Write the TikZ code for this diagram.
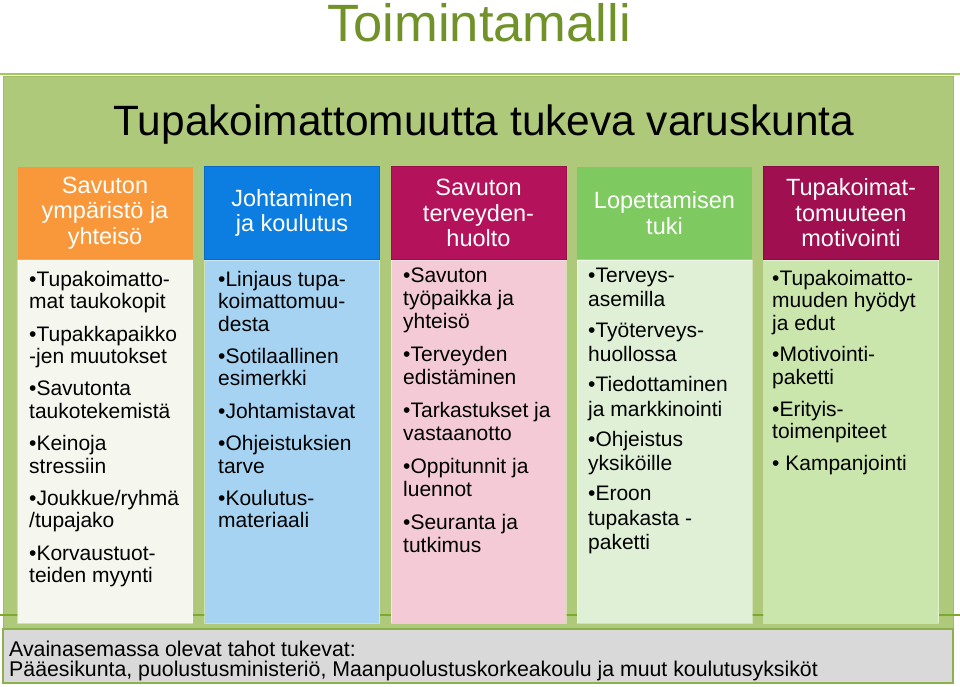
\documentclass[tikz,border=0pt]{standalone}
\usepackage{fontspec}
\setmainfont{Liberation Sans}
\definecolor{titlegreen}{RGB}{112,146,40}
\definecolor{bggreen}{RGB}{174,201,122}
\definecolor{bgedge}{RGB}{160,188,100}
\definecolor{toplinec}{RGB}{160,200,90}
\definecolor{midlinec}{RGB}{125,170,46}
\definecolor{hOrange}{RGB}{248,152,58}
\definecolor{bOrange}{RGB}{245,247,238}
\definecolor{hBlue}{RGB}{12,126,226}
\definecolor{bBlue}{RGB}{166,211,242}
\definecolor{hMag}{RGB}{180,18,90}
\definecolor{bMag}{RGB}{243,202,214}
\definecolor{hGreen}{RGB}{126,201,96}
\definecolor{bGreen}{RGB}{224,240,214}
\definecolor{hPlum}{RGB}{160,15,80}
\definecolor{bPlum}{RGB}{202,230,172}
\definecolor{grayfill}{RGB}{217,217,217}
\definecolor{grayedge}{RGB}{141,176,79}
\begin{document}
\begin{tikzpicture}[x=1pt,y=-1pt,
  headbox/.style={rectangle, inner sep=0, minimum width=175, minimum height=92.5, line width=1},
  bodybox/.style={rectangle, inner sep=0, minimum width=175, minimum height=363, draw=white, draw opacity=0.45, line width=1},
  headtext/.style={inner sep=0, align=center, text=white, font=\fontsize{23.5}{25.5}\selectfont},
  bodytext/.style={inner sep=0, align=left, anchor=north west, text=black, font=\fontsize{21}{22.4}\selectfont},
  bodytextwide/.style={bodytext, font=\fontsize{21}{24.3}\selectfont}
]
\useasboundingbox (0,0) rectangle (960,687);
\fill[white] (0,0) rectangle (960,687);

% title
\node[inner sep=0, anchor=base, text=titlegreen, font=\fontsize{52.5}{60}\selectfont] (title) at (479,42) {Toimintamalli};

% top line and background
\draw[toplinec, line width=2.5] (0,74) -- (960,74);
\node[rectangle, inner sep=0, fill=bggreen, draw=bgedge, line width=0.8, minimum width=950, minimum height=553] (bg) at (478,353) {};
\node[inner sep=0, anchor=base, text=black, font=\fontsize{42.4}{48}\selectfont] (subtitle) at (484,136) {Tupakoimattomuutta tukeva varuskunta};

% middle line
\draw[midlinec, line width=2] (0,615) -- (960,615);

% column 1
\node[headbox, fill=hOrange] (h1) at (105,213) {};
\node[headtext] (h1t) at (105,213) {Savuton\\ympäristö ja\\yhteisö};
\node[bodybox, fill=bOrange] (b1) at (105,441.5) {};
\node[bodytext] (b1t) at (29,270) {\rule{0pt}{16pt}•Tupakoimatto-\\mat taukokopit\\[10pt]•Tupakkapaikko\\-jen muutokset\\[10pt]•Savutonta\\taukotekemistä\\[10pt]•Keinoja\\stressiin\\[10pt]•Joukkue/ryhmä\\/tupajako\\[10pt]•Korvaustuot-\\teiden myynti};

% column 2
\node[headbox, fill=hBlue, draw=hBlue!85!black] (h2) at (292,213) {};
\node[headtext] (h2t) at (292,213) {Johtaminen\\ja koulutus};
\node[bodybox, fill=bBlue] (b2) at (292,441.5) {};
\node[bodytext] (b2t) at (218,270) {\rule{0pt}{16pt}•Linjaus tupa-\\koimattomuu-\\desta\\[10pt]•Sotilaallinen\\esimerkki\\[10pt]•Johtamistavat\\[10pt]•Ohjeistuksien\\tarve\\[10pt]•Koulutus-\\materiaali};

% column 3
\node[headbox, fill=hMag, draw=hMag!85!black] (h3) at (478.5,213) {};
\node[headtext] (h3t) at (478.5,213) {Savuton\\terveyden-\\huolto};
\node[bodybox, fill=bMag] (b3) at (478.5,441.5) {};
\node[bodytext, font=\fontsize{21}{23}\selectfont] (b3t) at (403,266.3) {\rule{0pt}{16pt}•Savuton\\työpaikka ja\\yhteisö\\[10pt]•Terveyden\\edistäminen\\[10pt]•Tarkastukset ja\\vastaanotto\\[10pt]•Oppitunnit ja\\luennot\\[10pt]•Seuranta ja\\tutkimus};

% column 4
\node[headbox, fill=hGreen] (h4) at (664.5,213) {};
\node[headtext] (h4t) at (664.5,213) {Lopettamisen\\tuki};
\node[bodybox, fill=bGreen] (b4) at (664.5,441.5) {};
\node[bodytextwide] (b4t) at (588,266.3) {\rule{0pt}{16pt}•Terveys-\\asemilla\\[6pt]•Työterveys-\\huollossa\\[6pt]•Tiedottaminen\\ja markkinointi\\[6pt]•Ohjeistus\\yksiköille\\[6pt]•Eroon\\tupakasta -\\paketti};

% column 5
\node[headbox, fill=hPlum, draw=hPlum!85!black] (h5) at (851,213) {};
\node[headtext] (h5t) at (851,213) {Tupakoimat-\\tomuuteen\\motivointi};
\node[bodybox, fill=bPlum] (b5) at (851,441.5) {};
\node[bodytext] (b5t) at (772,269) {\rule{0pt}{16pt}•Tupakoimatto-\\muuden hyödyt\\ja edut\\[9.5pt]•Motivointi-\\paketti\\[9.5pt]•Erityis-\\toimenpiteet\\[9.5pt]• Kampanjointi};

% bottom box
\node[rectangle, inner sep=0, fill=grayfill, draw=grayedge, line width=1.2, minimum width=950, minimum height=54] (foot) at (478,656) {};
\node[inner sep=0, align=left, anchor=north west, font=\fontsize{21.3}{20}\selectfont] (foott) at (9,640) {\rule{0pt}{16pt}Avainasemassa olevat tahot tukevat:\\Pääesikunta, puolustusministeriö, Maanpuolustuskorkeakoulu ja muut koulutusyksiköt};
\end{tikzpicture}
\end{document}
